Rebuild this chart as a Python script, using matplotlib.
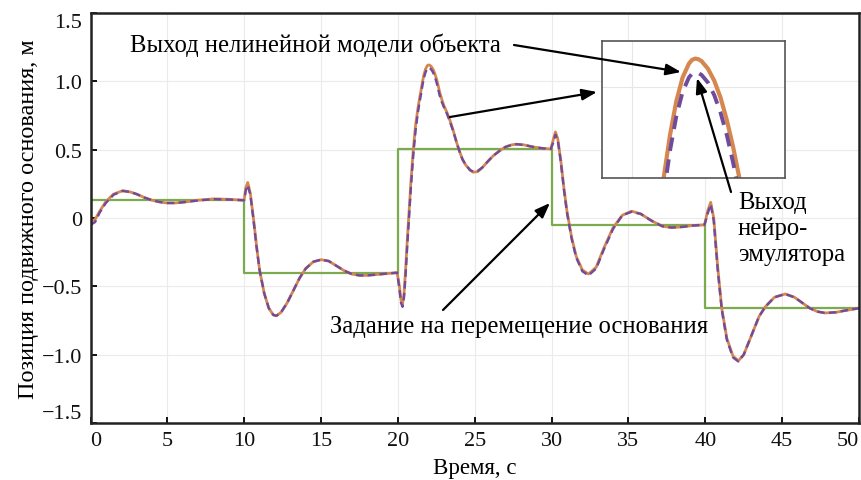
import numpy as np
import matplotlib
matplotlib.use("Agg")
import matplotlib.pyplot as plt

plt.rcParams['font.family'] = ['Liberation Serif', 'DejaVu Serif']

# time grid, s
t = [0.0, 0.3, 0.6, 1.0, 1.5, 2.1, 2.6, 3.0, 3.5, 4.0, 4.5, 5.0, 5.5, 6.0, 7.0, 8.0, 9.0, 9.9,
     10.0, 10.1, 10.23, 10.4, 10.6, 10.8, 11.0, 11.3, 11.6, 11.9, 12.1, 12.4, 12.8, 13.2, 13.6,
     14.0, 14.5, 15.0, 15.5, 16.0, 16.5, 17.0, 17.5, 18.0, 18.5, 19.0, 19.5, 19.95,
     20.1, 20.2, 20.3, 20.4, 20.5, 20.6, 20.7, 20.85, 21.0, 21.15, 21.3, 21.4, 21.5, 21.6,
     21.7, 21.8, 21.9, 21.95, 22.0, 22.05, 22.1, 22.2, 22.3, 22.4, 22.5, 22.6, 22.7, 22.85,
     23.0, 23.2, 23.4, 23.6, 23.8, 24.0, 24.2, 24.4, 24.7, 24.9, 25.2, 25.5, 25.9, 26.2,
     26.6, 27.0, 27.4, 27.7, 28.2, 28.8, 29.4, 29.95,
     30.1, 30.25, 30.4, 30.6, 30.8, 31.0, 31.3, 31.6, 32.0, 32.4, 32.9, 33.4, 34.0, 34.6,
     35.2, 35.8, 36.5, 37.2, 37.8, 38.5, 39.2, 39.95,
     40.15, 40.35, 40.55, 40.8, 41.07, 41.4, 41.8, 42.15, 42.5, 43.0, 43.5, 43.9, 44.5,
     45.2, 45.8, 46.3, 46.8, 47.3, 47.8, 48.5, 49.2, 50.0]

# nonlinear object model output
y_model = [-0.03, -0.01, 0.05, 0.12, 0.175, 0.20, 0.19, 0.175, 0.15, 0.13, 0.117, 0.11, 0.11, 0.115,
           0.13, 0.14, 0.137, 0.13,
           0.135, 0.22, 0.26, 0.18, 0.0, -0.20, -0.38, -0.55, -0.66, -0.71, -0.715, -0.69, -0.62,
           -0.53, -0.44, -0.37, -0.32, -0.305, -0.315, -0.35, -0.385, -0.41, -0.42, -0.42,
           -0.415, -0.41, -0.405, -0.40,
           -0.50, -0.60, -0.63, -0.55, -0.38, -0.18, 0.0, 0.27, 0.50, 0.68, 0.80, 0.87, 0.93,
           0.998, 1.052, 1.090, 1.112, 1.118, 1.12, 1.119, 1.116, 1.104, 1.085, 1.058, 1.022,
           0.979, 0.929, 0.87,
           0.82, 0.77, 0.71, 0.64, 0.56, 0.49, 0.43, 0.39, 0.35, 0.335, 0.34, 0.37, 0.42, 0.455,
           0.49, 0.52, 0.535, 0.54, 0.535, 0.52, 0.51, 0.505,
           0.57, 0.63, 0.58, 0.42, 0.22, 0.05, -0.14, -0.28, -0.38, -0.41, -0.36, -0.22, -0.07,
           0.02, 0.05, 0.03, -0.02, -0.06, -0.07, -0.065, -0.055, -0.05,
           0.05, 0.115, 0.0, -0.35, -0.66, -0.88, -1.01, -1.045, -1.0, -0.86, -0.72, -0.65,
           -0.58, -0.556, -0.58, -0.62, -0.66, -0.685, -0.695, -0.69, -0.675, -0.66]

# neuro-emulator output
y_emul = [-0.05, -0.03, 0.04, 0.11, 0.17, 0.198, 0.19, 0.175, 0.15, 0.13, 0.117, 0.11, 0.11, 0.115,
          0.128, 0.138, 0.135, 0.13,
          0.13, 0.20, 0.24, 0.17, -0.01, -0.21, -0.38, -0.55, -0.66, -0.71, -0.715, -0.69, -0.62,
          -0.53, -0.44, -0.37, -0.32, -0.305, -0.315, -0.35, -0.385, -0.41, -0.42, -0.42,
          -0.415, -0.41, -0.405, -0.40,
          -0.52, -0.62, -0.65, -0.58, -0.42, -0.22, -0.04, 0.23, 0.46, 0.64, 0.77, 0.84, 0.903,
          0.973, 1.028, 1.067, 1.090, 1.096, 1.098, 1.097, 1.094, 1.082, 1.062, 1.034, 0.998,
          0.954, 0.903, 0.85,
          0.81, 0.76, 0.70, 0.635, 0.56, 0.49, 0.43, 0.39, 0.35, 0.34, 0.345, 0.37, 0.42, 0.455,
          0.49, 0.52, 0.535, 0.54, 0.535, 0.52, 0.51, 0.505,
          0.55, 0.61, 0.57, 0.41, 0.21, 0.04, -0.15, -0.29, -0.39, -0.42, -0.37, -0.23, -0.08,
          0.02, 0.045, 0.03, -0.02, -0.06, -0.07, -0.065, -0.055, -0.05,
          0.03, 0.10, -0.02, -0.37, -0.67, -0.89, -1.02, -1.05, -1.0, -0.86, -0.72, -0.65,
          -0.58, -0.556, -0.58, -0.62, -0.66, -0.685, -0.695, -0.69, -0.675, -0.66]

# set-point for base displacement (step signal)
t_ref = [0, 10, 20, 30, 40, 50]
y_ref = [0.13, -0.40, 0.505, -0.05, -0.66, -0.66]

x_ticks = [0, 5, 10, 15, 20, 25, 30, 35, 40, 45, 50]
y_ticks = [-1.5, -1.0, -0.5, 0, 0.5, 1.0, 1.5]
y_tick_labels = ['\u22121.5', '\u22121.0', '\u22120.5', '0', '0.5', '1.0', '1.5']

C_MODEL = '#d6864f'
C_EMUL = '#6f4b9b'
C_REF = '#7bab4d'
H = 481
FS_TEXT = 17.7


def px(x, y):
    # pixel position measured from the top-left corner
    return (x, H - y)


fig = plt.figure(figsize=(8.61, 4.81), dpi=100)
ax = fig.add_axes([90.5 / 861, 1 - 424 / 481, (859 - 90.5) / 861, (424 - 14) / 481])

ax.plot(t_ref, y_ref, drawstyle='steps-post', color=C_REF, lw=1.6)
ax.plot(t, y_model, color=C_MODEL, lw=2.0)
ax.plot(t, y_emul, color=C_EMUL, lw=1.7, dashes=(3.2, 1.8))

ax.set_xlim(0, 50)
ax.set_ylim(-1.5, 1.5)
ax.set_xticks(x_ticks, labels=[str(v) for v in x_ticks])
ax.set_yticks(y_ticks, labels=y_tick_labels)
ax.tick_params(direction='in', length=4, width=1.4, labelsize=16, pad=6, colors='#111')
ax.grid(True, color='#ebebeb', lw=0.8)
for s in ax.spines.values():
    s.set_linewidth(1.8)
    s.set_color('#222')

xl = ax.get_xticklabels()
xl[0].set_ha('left')
xl[-1].set_ha('right')
yl = ax.get_yticklabels()
yl[0].set_va('bottom')
yl[-1].set_va('top')

ax.set_xlabel('Время, с', fontsize=16.5, labelpad=5)
ax.set_ylabel('Позиция подвижного основания, м', fontsize=17.5, labelpad=2)

# zoomed view of the main peak
axi = fig.add_axes([601.7 / 861, 1 - 179 / 481, 183.3 / 861, 137 / 481])
axi.plot(t, y_model, color=C_MODEL, lw=3.0)
axi.plot(t, y_emul, color=C_EMUL, lw=2.8, dashes=(3.5, 2.2))
axi.set_xlim(20.52, 23.42)
axi.set_ylim(0.93, 1.148)
axi.set_xticks([21.0])
axi.set_yticks([1.075])
axi.tick_params(length=0, labelbottom=False, labelleft=False)
axi.grid(True, color='#e6e6e6', lw=0.8)
for s in axi.spines.values():
    s.set_linewidth(1.2)
    s.set_color('#555')

arrow = dict(arrowstyle='-|>,head_length=0.45,head_width=0.17', mutation_scale=20,
             lw=1.6, color='k', shrinkA=0, shrinkB=0)

fig.text(130 / 861, 1 - 45 / 481, 'Выход нелинейной модели объекта', fontsize=FS_TEXT,
         ha='left', va='center')
axi.annotate('', xy=px(681, 73), xytext=px(514, 46), xycoords='figure pixels',
             textcoords='figure pixels', arrowprops=arrow)
axi.annotate('', xy=px(597, 93), xytext=px(450, 118), xycoords='figure pixels',
             textcoords='figure pixels', arrowprops=arrow)

fig.text(330 / 861, 1 - 327 / 481, 'Задание на перемещение основания', fontsize=FS_TEXT,
         ha='left', va='center')
axi.annotate('', xy=px(550, 204), xytext=px(443, 311), xycoords='figure pixels',
             textcoords='figure pixels', arrowprops=arrow)

fig.text(738 / 861, 1 - 192 / 481, 'Выход\nнейро-\nэмулятора', fontsize=FS_TEXT,
         ha='left', va='top', linespacing=1.22)
axi.annotate('', xy=px(697, 79), xytext=px(731, 193), xycoords='figure pixels',
             textcoords='figure pixels', arrowprops=arrow)

fig.savefig('out.png', dpi=100)
